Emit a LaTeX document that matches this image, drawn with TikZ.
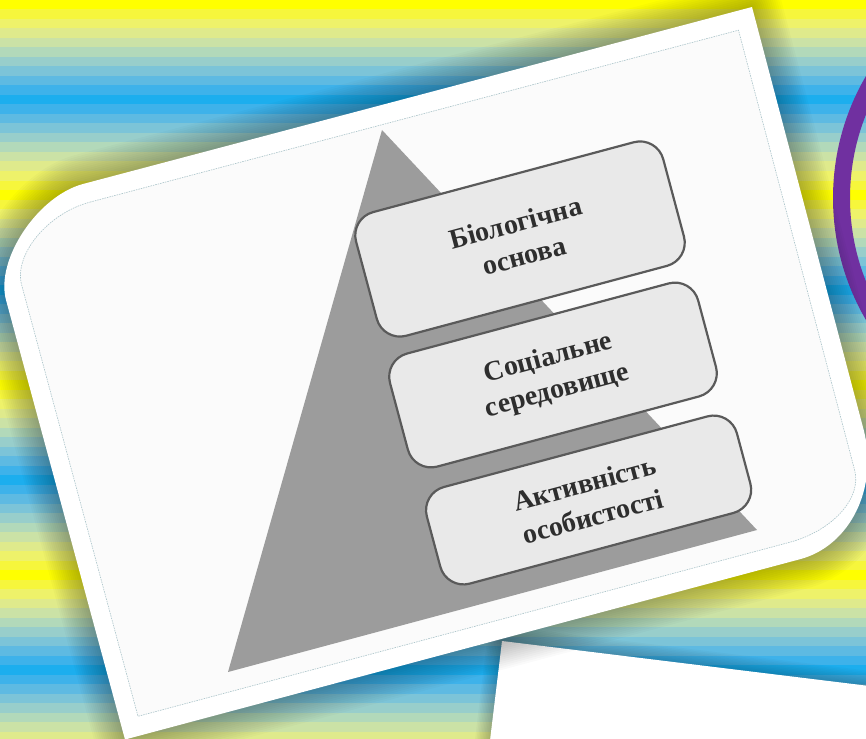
\documentclass[tikz,border=0pt]{standalone}
\usepackage{fontspec}
\setmainfont{Liberation Serif}
\definecolor{s0}{HTML}{FFFF00}
\definecolor{s1}{HTML}{F6F63C}
\definecolor{s2}{HTML}{EEF26A}
\definecolor{s3}{HTML}{DFEA8C}
\definecolor{s4}{HTML}{CBE2A6}
\definecolor{s5}{HTML}{B2D9BA}
\definecolor{s6}{HTML}{98CECB}
\definecolor{s7}{HTML}{7CC4D8}
\definecolor{s8}{HTML}{5EBAE2}
\definecolor{s9}{HTML}{3EB2EA}
\definecolor{s10}{HTML}{1CAEEE}
\definecolor{ringc}{HTML}{7030A0}
\definecolor{tric}{HTML}{9C9C9C}
\definecolor{boxfill}{HTML}{E9E9E9}
\definecolor{boxline}{HTML}{5A5A5A}
\definecolor{txtc}{HTML}{2E2E2E}
\definecolor{dotc}{HTML}{A9C3C9}
\definecolor{innerc}{HTML}{FBFBFB}
\begin{document}
\begin{tikzpicture}[x=1pt,y=-1pt,
  pbox/.style={draw=boxline, line width=2.2pt, fill=boxfill, rounded corners=24pt,
    minimum width=#1, rotate=15, align=center,
    font=\fontsize{28}{34}\selectfont\bfseries, text=txtc, inner sep=0pt},
  shade1/.style={draw=black, line join=round, line width=#1}]
\useasboundingbox (0,0) rectangle (866,738);
\clip (0,0) rectangle (866,738);
% striped background
\foreach \i in {0,...,77}{
  \pgfmathtruncatemacro\ph{mod(\i,20)}
  \pgfmathtruncatemacro\idx{\ph<=10 ? \ph : 20-\ph}
  \fill[s\idx] (0,\i*9.5) rectangle (866,\i*9.5+9.6);
}
% purple ring
\draw[ringc, line width=17pt] (1075,198) circle[radius=233.5];
% white sheet bottom right
\def\rectpath{(502,641) -- (1098,714) -- (1074,913) -- (478,840) -- cycle}
\foreach \w in {3,6,...,30}{
  \draw[shade1=\w pt, opacity=0.025] \rectpath;
}
\fill[white] \rectpath;
% card
\def\cardpath{(83,184) -- (752,7) -- (863.7,430) .. controls (878.7,487.8) and (850,545.9) .. (800,559.2) -- (125,739.5) -- (6,300) .. controls (-4.8,260) and (37.5,196.2) .. (83,184) -- cycle}
\foreach \w in {4,8,...,60}{
  \draw[shade1=\w pt, opacity=0.02] \cardpath;
}
\fill[white] \cardpath;
\def\innerpath{(90,202.1) -- (738.5,30.2) -- (854.6,470) .. controls (862.1,498) and (832.9,530.5) .. (790,542.2) -- (138,716.3) -- (21.65,285) .. controls (13.5,254.8) and (47.65,213.3) .. (90,202.1) -- cycle}
\fill[innerc] \innerpath;
\draw[dotc, line width=0.6pt, dash pattern=on 1.5pt off 1pt] \innerpath;
% pyramid
\fill[tric] (382,130) -- (757,530) -- (228,672) -- cycle;
% boxes
\node[pbox=318pt, minimum height=128pt] (b1) at (520,239) {Біологічна\\основа};
\node[pbox=319pt, minimum height=117pt] (b2) at (553,375) {Соціальне\\середовище};
\node[pbox=321pt, minimum height=100pt] (b3) at (588.6,500) {Активність\\особистості};
\end{tikzpicture}
\end{document}
